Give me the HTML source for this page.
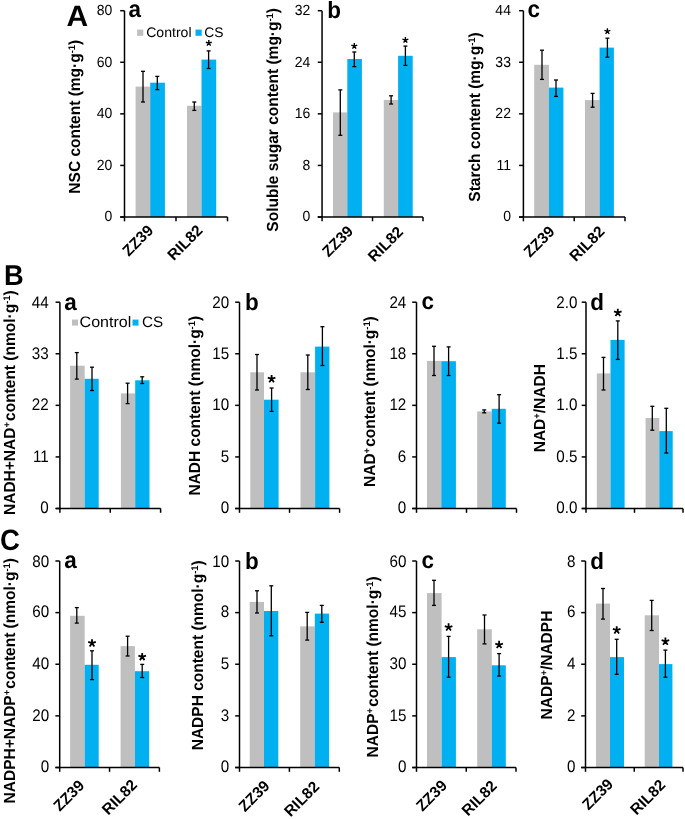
<!DOCTYPE html>
<html><head><meta charset="utf-8"><style>
html,body{margin:0;padding:0;background:#fff;overflow:hidden;}
svg{display:block;will-change:transform;}
text{font-family:"Liberation Sans",sans-serif;fill:#000;text-rendering:geometricPrecision;}
</style></head><body>
<svg width="685" height="819" viewBox="0 0 685 819">
<rect x="135.60" y="86.60" width="14.60" height="130.40" fill="#BFBFBF"/>
<rect x="150.20" y="82.70" width="14.70" height="134.30" fill="#00B0F0"/>
<rect x="187.00" y="105.80" width="14.50" height="111.20" fill="#BFBFBF"/>
<rect x="201.50" y="59.60" width="14.70" height="157.40" fill="#00B0F0"/>
<line x1="124.50" y1="10.70" x2="124.50" y2="217.00" stroke="#000" stroke-width="1.5"/>
<line x1="120.20" y1="217.00" x2="124.50" y2="217.00" stroke="#000" stroke-width="1.5"/>
<text transform="translate(112.30,221.48) scale(1.0,1.05)" font-size="14" text-anchor="end">0</text>
<line x1="120.20" y1="165.43" x2="124.50" y2="165.43" stroke="#000" stroke-width="1.5"/>
<text transform="translate(112.30,169.91) scale(1.0,1.05)" font-size="14" text-anchor="end">20</text>
<line x1="120.20" y1="113.85" x2="124.50" y2="113.85" stroke="#000" stroke-width="1.5"/>
<text transform="translate(112.30,118.33) scale(1.0,1.05)" font-size="14" text-anchor="end">40</text>
<line x1="120.20" y1="62.27" x2="124.50" y2="62.27" stroke="#000" stroke-width="1.5"/>
<text transform="translate(112.30,66.75) scale(1.0,1.05)" font-size="14" text-anchor="end">60</text>
<line x1="120.20" y1="10.70" x2="124.50" y2="10.70" stroke="#000" stroke-width="1.5"/>
<text transform="translate(112.30,15.18) scale(1.0,1.05)" font-size="14" text-anchor="end">80</text>
<line x1="120.20" y1="217.00" x2="227.50" y2="217.00" stroke="#000" stroke-width="1.5"/>
<line x1="124.50" y1="217.00" x2="124.50" y2="221.30" stroke="#000" stroke-width="1.5"/>
<line x1="176.00" y1="217.00" x2="176.00" y2="221.30" stroke="#000" stroke-width="1.5"/>
<line x1="227.50" y1="217.00" x2="227.50" y2="221.30" stroke="#000" stroke-width="1.5"/>
<line x1="143.00" y1="71.30" x2="143.00" y2="102.00" stroke="#000" stroke-width="1.3"/>
<line x1="141.00" y1="71.30" x2="145.00" y2="71.30" stroke="#000" stroke-width="1.3"/>
<line x1="141.00" y1="102.00" x2="145.00" y2="102.00" stroke="#000" stroke-width="1.3"/>
<line x1="157.30" y1="76.40" x2="157.30" y2="89.60" stroke="#000" stroke-width="1.3"/>
<line x1="155.30" y1="76.40" x2="159.30" y2="76.40" stroke="#000" stroke-width="1.3"/>
<line x1="155.30" y1="89.60" x2="159.30" y2="89.60" stroke="#000" stroke-width="1.3"/>
<line x1="194.30" y1="102.00" x2="194.30" y2="110.40" stroke="#000" stroke-width="1.3"/>
<line x1="192.30" y1="102.00" x2="196.30" y2="102.00" stroke="#000" stroke-width="1.3"/>
<line x1="192.30" y1="110.40" x2="196.30" y2="110.40" stroke="#000" stroke-width="1.3"/>
<line x1="208.60" y1="50.90" x2="208.60" y2="68.50" stroke="#000" stroke-width="1.3"/>
<line x1="206.60" y1="50.90" x2="210.60" y2="50.90" stroke="#000" stroke-width="1.3"/>
<line x1="206.60" y1="68.50" x2="210.60" y2="68.50" stroke="#000" stroke-width="1.3"/>
<path d="M208.80,43.20L208.80,40.10M208.80,43.20L211.75,42.24M208.80,43.20L210.62,45.71M208.80,43.20L206.98,45.71M208.80,43.20L205.85,42.24" stroke="#000" stroke-width="1.4" fill="none"/>
<text transform="translate(128.60,16.50) scale(1.07,1.12)" font-size="21" text-anchor="start" font-weight="bold">a</text>
<text transform="translate(79.60,116.75) rotate(-90) scale(1,1.035)" font-size="15.5" font-weight="bold" text-anchor="middle"><tspan dy="0.00">NSC content (mg·g</tspan><tspan font-size="9.30" dy="-4.65">-1</tspan><tspan dy="4.65">)</tspan></text>
<rect x="137.10" y="29.60" width="6.20" height="6.20" fill="#BFBFBF"/>
<text transform="translate(146.20,36.80) scale(1.02,1.0)" font-size="13.8" text-anchor="start">Control</text>
<rect x="195.50" y="29.60" width="6.20" height="6.20" fill="#00B0F0"/>
<text x="204.30" y="36.80" font-size="13.8" text-anchor="start">CS</text>
<text transform="translate(154.28,231.39) rotate(-45)" font-size="15.5" font-weight="bold" text-anchor="end">ZZ39</text>
<text transform="translate(203.68,231.39) rotate(-45)" font-size="15.5" font-weight="bold" text-anchor="end">RIL82</text>
<rect x="333.00" y="112.40" width="14.30" height="104.60" fill="#BFBFBF"/>
<rect x="347.30" y="59.00" width="14.60" height="158.00" fill="#00B0F0"/>
<rect x="383.80" y="99.90" width="14.30" height="117.10" fill="#BFBFBF"/>
<rect x="398.10" y="55.80" width="14.60" height="161.20" fill="#00B0F0"/>
<line x1="322.05" y1="10.70" x2="322.05" y2="217.00" stroke="#000" stroke-width="1.5"/>
<line x1="317.75" y1="217.00" x2="322.05" y2="217.00" stroke="#000" stroke-width="1.5"/>
<text transform="translate(310.40,221.48) scale(1.0,1.05)" font-size="14" text-anchor="end">0</text>
<line x1="317.75" y1="165.43" x2="322.05" y2="165.43" stroke="#000" stroke-width="1.5"/>
<text transform="translate(310.40,169.91) scale(1.0,1.05)" font-size="14" text-anchor="end">8</text>
<line x1="317.75" y1="113.85" x2="322.05" y2="113.85" stroke="#000" stroke-width="1.5"/>
<text transform="translate(310.40,118.33) scale(1.0,1.05)" font-size="14" text-anchor="end">16</text>
<line x1="317.75" y1="62.27" x2="322.05" y2="62.27" stroke="#000" stroke-width="1.5"/>
<text transform="translate(310.40,66.75) scale(1.0,1.05)" font-size="14" text-anchor="end">24</text>
<line x1="317.75" y1="10.70" x2="322.05" y2="10.70" stroke="#000" stroke-width="1.5"/>
<text transform="translate(310.40,15.18) scale(1.0,1.05)" font-size="14" text-anchor="end">32</text>
<line x1="317.75" y1="217.00" x2="423.00" y2="217.00" stroke="#000" stroke-width="1.5"/>
<line x1="322.05" y1="217.00" x2="322.05" y2="221.30" stroke="#000" stroke-width="1.5"/>
<line x1="372.52" y1="217.00" x2="372.52" y2="221.30" stroke="#000" stroke-width="1.5"/>
<line x1="423.00" y1="217.00" x2="423.00" y2="221.30" stroke="#000" stroke-width="1.5"/>
<line x1="340.30" y1="89.90" x2="340.30" y2="135.30" stroke="#000" stroke-width="1.3"/>
<line x1="338.30" y1="89.90" x2="342.30" y2="89.90" stroke="#000" stroke-width="1.3"/>
<line x1="338.30" y1="135.30" x2="342.30" y2="135.30" stroke="#000" stroke-width="1.3"/>
<line x1="354.30" y1="52.00" x2="354.30" y2="66.60" stroke="#000" stroke-width="1.3"/>
<line x1="352.30" y1="52.00" x2="356.30" y2="52.00" stroke="#000" stroke-width="1.3"/>
<line x1="352.30" y1="66.60" x2="356.30" y2="66.60" stroke="#000" stroke-width="1.3"/>
<line x1="391.10" y1="95.80" x2="391.10" y2="104.00" stroke="#000" stroke-width="1.3"/>
<line x1="389.10" y1="95.80" x2="393.10" y2="95.80" stroke="#000" stroke-width="1.3"/>
<line x1="389.10" y1="104.00" x2="393.10" y2="104.00" stroke="#000" stroke-width="1.3"/>
<line x1="405.40" y1="46.10" x2="405.40" y2="65.40" stroke="#000" stroke-width="1.3"/>
<line x1="403.40" y1="46.10" x2="407.40" y2="46.10" stroke="#000" stroke-width="1.3"/>
<line x1="403.40" y1="65.40" x2="407.40" y2="65.40" stroke="#000" stroke-width="1.3"/>
<path d="M354.30,46.10L354.30,43.00M354.30,46.10L357.25,45.14M354.30,46.10L356.12,48.61M354.30,46.10L352.48,48.61M354.30,46.10L351.35,45.14" stroke="#000" stroke-width="1.4" fill="none"/>
<path d="M405.40,40.10L405.40,37.00M405.40,40.10L408.35,39.14M405.40,40.10L407.22,42.61M405.40,40.10L403.58,42.61M405.40,40.10L402.45,39.14" stroke="#000" stroke-width="1.4" fill="none"/>
<text transform="translate(327.20,17.80) scale(1.07,1.12)" font-size="21" text-anchor="start" font-weight="bold">b</text>
<text transform="translate(278.25,119.85) rotate(-90) scale(1,1.035)" font-size="15.5" font-weight="bold" text-anchor="middle"><tspan dy="0.00">Soluble sugar content (mg·g</tspan><tspan font-size="9.30" dy="-4.65">-1</tspan><tspan dy="4.65">)</tspan></text>
<text transform="translate(354.18,232.09) rotate(-45)" font-size="15.5" font-weight="bold" text-anchor="end">ZZ39</text>
<text transform="translate(404.08,232.79) rotate(-45)" font-size="15.5" font-weight="bold" text-anchor="end">RIL82</text>
<rect x="534.20" y="64.80" width="14.80" height="152.20" fill="#BFBFBF"/>
<rect x="549.00" y="87.60" width="14.40" height="129.40" fill="#00B0F0"/>
<rect x="585.00" y="100.10" width="14.60" height="116.90" fill="#BFBFBF"/>
<rect x="599.60" y="47.60" width="14.30" height="169.40" fill="#00B0F0"/>
<line x1="523.40" y1="10.70" x2="523.40" y2="217.00" stroke="#000" stroke-width="1.5"/>
<line x1="519.10" y1="217.00" x2="523.40" y2="217.00" stroke="#000" stroke-width="1.5"/>
<text transform="translate(510.95,221.48) scale(1.0,1.05)" font-size="14" text-anchor="end">0</text>
<line x1="519.10" y1="165.43" x2="523.40" y2="165.43" stroke="#000" stroke-width="1.5"/>
<text transform="translate(510.95,169.91) scale(1.0,1.05)" font-size="14" text-anchor="end">11</text>
<line x1="519.10" y1="113.85" x2="523.40" y2="113.85" stroke="#000" stroke-width="1.5"/>
<text transform="translate(510.95,118.33) scale(1.0,1.05)" font-size="14" text-anchor="end">22</text>
<line x1="519.10" y1="62.27" x2="523.40" y2="62.27" stroke="#000" stroke-width="1.5"/>
<text transform="translate(510.95,66.75) scale(1.0,1.05)" font-size="14" text-anchor="end">33</text>
<line x1="519.10" y1="10.70" x2="523.40" y2="10.70" stroke="#000" stroke-width="1.5"/>
<text transform="translate(510.95,15.18) scale(1.0,1.05)" font-size="14" text-anchor="end">44</text>
<line x1="519.10" y1="217.00" x2="625.00" y2="217.00" stroke="#000" stroke-width="1.5"/>
<line x1="523.40" y1="217.00" x2="523.40" y2="221.30" stroke="#000" stroke-width="1.5"/>
<line x1="574.20" y1="217.00" x2="574.20" y2="221.30" stroke="#000" stroke-width="1.5"/>
<line x1="625.00" y1="217.00" x2="625.00" y2="221.30" stroke="#000" stroke-width="1.5"/>
<line x1="542.00" y1="50.20" x2="542.00" y2="79.40" stroke="#000" stroke-width="1.3"/>
<line x1="540.00" y1="50.20" x2="544.00" y2="50.20" stroke="#000" stroke-width="1.3"/>
<line x1="540.00" y1="79.40" x2="544.00" y2="79.40" stroke="#000" stroke-width="1.3"/>
<line x1="556.00" y1="80.00" x2="556.00" y2="96.40" stroke="#000" stroke-width="1.3"/>
<line x1="554.00" y1="80.00" x2="558.00" y2="80.00" stroke="#000" stroke-width="1.3"/>
<line x1="554.00" y1="96.40" x2="558.00" y2="96.40" stroke="#000" stroke-width="1.3"/>
<line x1="592.60" y1="93.40" x2="592.60" y2="107.20" stroke="#000" stroke-width="1.3"/>
<line x1="590.60" y1="93.40" x2="594.60" y2="93.40" stroke="#000" stroke-width="1.3"/>
<line x1="590.60" y1="107.20" x2="594.60" y2="107.20" stroke="#000" stroke-width="1.3"/>
<line x1="607.40" y1="38.20" x2="607.40" y2="57.20" stroke="#000" stroke-width="1.3"/>
<line x1="605.40" y1="38.20" x2="609.40" y2="38.20" stroke="#000" stroke-width="1.3"/>
<line x1="605.40" y1="57.20" x2="609.40" y2="57.20" stroke="#000" stroke-width="1.3"/>
<path d="M607.40,31.35L607.40,28.25M607.40,31.35L610.35,30.39M607.40,31.35L609.22,33.86M607.40,31.35L605.58,33.86M607.40,31.35L604.45,30.39" stroke="#000" stroke-width="1.4" fill="none"/>
<text transform="translate(527.60,17.30) scale(1.07,1.12)" font-size="21" text-anchor="start" font-weight="bold">c</text>
<text transform="translate(480.30,117.00) rotate(-90) scale(1,1.035)" font-size="15.5" font-weight="bold" text-anchor="middle"><tspan dy="0.00">Starch content (mg·g</tspan><tspan font-size="9.30" dy="-4.65">-1</tspan><tspan dy="4.65">)</tspan></text>
<text transform="translate(555.68,232.49) rotate(-45)" font-size="15.5" font-weight="bold" text-anchor="end">ZZ39</text>
<text transform="translate(605.58,232.49) rotate(-45)" font-size="15.5" font-weight="bold" text-anchor="end">RIL82</text>
<rect x="70.10" y="365.70" width="14.60" height="142.80" fill="#BFBFBF"/>
<rect x="84.70" y="378.80" width="14.00" height="129.70" fill="#00B0F0"/>
<rect x="120.90" y="393.40" width="14.30" height="115.10" fill="#BFBFBF"/>
<rect x="135.20" y="380.30" width="14.30" height="128.20" fill="#00B0F0"/>
<line x1="59.90" y1="302.20" x2="59.90" y2="508.50" stroke="#000" stroke-width="1.5"/>
<line x1="55.60" y1="508.50" x2="59.90" y2="508.50" stroke="#000" stroke-width="1.5"/>
<text transform="translate(48.70,513.23) scale(1.0,1.1)" font-size="15.2" text-anchor="end">0</text>
<line x1="55.60" y1="456.93" x2="59.90" y2="456.93" stroke="#000" stroke-width="1.5"/>
<text transform="translate(48.70,461.65) scale(1.0,1.1)" font-size="15.2" text-anchor="end">11</text>
<line x1="55.60" y1="405.35" x2="59.90" y2="405.35" stroke="#000" stroke-width="1.5"/>
<text transform="translate(48.70,410.08) scale(1.0,1.1)" font-size="15.2" text-anchor="end">22</text>
<line x1="55.60" y1="353.77" x2="59.90" y2="353.77" stroke="#000" stroke-width="1.5"/>
<text transform="translate(48.70,358.50) scale(1.0,1.1)" font-size="15.2" text-anchor="end">33</text>
<line x1="55.60" y1="302.20" x2="59.90" y2="302.20" stroke="#000" stroke-width="1.5"/>
<text transform="translate(48.70,307.68) scale(1.0,1.1)" font-size="15.2" text-anchor="end">44</text>
<line x1="55.60" y1="508.50" x2="160.60" y2="508.50" stroke="#000" stroke-width="1.5"/>
<line x1="59.90" y1="508.50" x2="59.90" y2="512.80" stroke="#000" stroke-width="1.5"/>
<line x1="110.25" y1="508.50" x2="110.25" y2="512.80" stroke="#000" stroke-width="1.5"/>
<line x1="160.60" y1="508.50" x2="160.60" y2="512.80" stroke="#000" stroke-width="1.5"/>
<line x1="76.80" y1="352.60" x2="76.80" y2="379.10" stroke="#000" stroke-width="1.3"/>
<line x1="74.80" y1="352.60" x2="78.80" y2="352.60" stroke="#000" stroke-width="1.3"/>
<line x1="74.80" y1="379.10" x2="78.80" y2="379.10" stroke="#000" stroke-width="1.3"/>
<line x1="92.00" y1="367.20" x2="92.00" y2="390.50" stroke="#000" stroke-width="1.3"/>
<line x1="90.00" y1="367.20" x2="94.00" y2="367.20" stroke="#000" stroke-width="1.3"/>
<line x1="90.00" y1="390.50" x2="94.00" y2="390.50" stroke="#000" stroke-width="1.3"/>
<line x1="127.60" y1="383.20" x2="127.60" y2="403.60" stroke="#000" stroke-width="1.3"/>
<line x1="125.60" y1="383.20" x2="129.60" y2="383.20" stroke="#000" stroke-width="1.3"/>
<line x1="125.60" y1="403.60" x2="129.60" y2="403.60" stroke="#000" stroke-width="1.3"/>
<line x1="142.20" y1="376.80" x2="142.20" y2="383.50" stroke="#000" stroke-width="1.3"/>
<line x1="140.20" y1="376.80" x2="144.20" y2="376.80" stroke="#000" stroke-width="1.3"/>
<line x1="140.20" y1="383.50" x2="144.20" y2="383.50" stroke="#000" stroke-width="1.3"/>
<text transform="translate(64.30,309.80) scale(1.07,1.12)" font-size="21" text-anchor="start" font-weight="bold">a</text>
<text transform="translate(14.95,402.70) rotate(-90) scale(1,1.035)" font-size="15.5" font-weight="bold" text-anchor="middle"><tspan dy="0.00">NADH+NAD</tspan><tspan font-size="9.30" dy="-4.65">+</tspan><tspan dy="4.65" dx="1.2">content (nmol·g</tspan><tspan font-size="9.30" dy="-4.65">-1</tspan><tspan dy="4.65">)</tspan></text>
<rect x="72.00" y="319.60" width="6.00" height="6.00" fill="#BFBFBF"/>
<text transform="translate(79.60,326.60) scale(1.057,1.0)" font-size="15.2" text-anchor="start">Control</text>
<rect x="132.50" y="319.60" width="6.00" height="6.00" fill="#00B0F0"/>
<text x="142.00" y="326.60" font-size="15.2" text-anchor="start">CS</text>
<rect x="250.30" y="372.30" width="13.70" height="136.20" fill="#BFBFBF"/>
<rect x="264.00" y="399.70" width="14.60" height="108.80" fill="#00B0F0"/>
<rect x="300.50" y="372.30" width="14.60" height="136.20" fill="#BFBFBF"/>
<rect x="315.10" y="346.60" width="14.30" height="161.90" fill="#00B0F0"/>
<line x1="239.50" y1="302.20" x2="239.50" y2="508.50" stroke="#000" stroke-width="1.5"/>
<line x1="235.20" y1="508.50" x2="239.50" y2="508.50" stroke="#000" stroke-width="1.5"/>
<text transform="translate(229.20,513.23) scale(1.0,1.1)" font-size="15.2" text-anchor="end">0</text>
<line x1="235.20" y1="456.93" x2="239.50" y2="456.93" stroke="#000" stroke-width="1.5"/>
<text transform="translate(229.20,461.65) scale(1.0,1.1)" font-size="15.2" text-anchor="end">5</text>
<line x1="235.20" y1="405.35" x2="239.50" y2="405.35" stroke="#000" stroke-width="1.5"/>
<text transform="translate(229.20,410.08) scale(1.0,1.1)" font-size="15.2" text-anchor="end">10</text>
<line x1="235.20" y1="353.77" x2="239.50" y2="353.77" stroke="#000" stroke-width="1.5"/>
<text transform="translate(229.20,358.50) scale(1.0,1.1)" font-size="15.2" text-anchor="end">15</text>
<line x1="235.20" y1="302.20" x2="239.50" y2="302.20" stroke="#000" stroke-width="1.5"/>
<text transform="translate(229.20,307.68) scale(1.0,1.1)" font-size="15.2" text-anchor="end">20</text>
<line x1="235.20" y1="508.50" x2="339.60" y2="508.50" stroke="#000" stroke-width="1.5"/>
<line x1="239.50" y1="508.50" x2="239.50" y2="512.80" stroke="#000" stroke-width="1.5"/>
<line x1="289.55" y1="508.50" x2="289.55" y2="512.80" stroke="#000" stroke-width="1.5"/>
<line x1="339.60" y1="508.50" x2="339.60" y2="512.80" stroke="#000" stroke-width="1.5"/>
<line x1="257.00" y1="354.50" x2="257.00" y2="390.00" stroke="#000" stroke-width="1.3"/>
<line x1="255.00" y1="354.50" x2="259.00" y2="354.50" stroke="#000" stroke-width="1.3"/>
<line x1="255.00" y1="390.00" x2="259.00" y2="390.00" stroke="#000" stroke-width="1.3"/>
<line x1="271.60" y1="388.00" x2="271.60" y2="411.40" stroke="#000" stroke-width="1.3"/>
<line x1="269.60" y1="388.00" x2="273.60" y2="388.00" stroke="#000" stroke-width="1.3"/>
<line x1="269.60" y1="411.40" x2="273.60" y2="411.40" stroke="#000" stroke-width="1.3"/>
<line x1="307.80" y1="355.00" x2="307.80" y2="389.50" stroke="#000" stroke-width="1.3"/>
<line x1="305.80" y1="355.00" x2="309.80" y2="355.00" stroke="#000" stroke-width="1.3"/>
<line x1="305.80" y1="389.50" x2="309.80" y2="389.50" stroke="#000" stroke-width="1.3"/>
<line x1="322.40" y1="326.70" x2="322.40" y2="365.50" stroke="#000" stroke-width="1.3"/>
<line x1="320.40" y1="326.70" x2="324.40" y2="326.70" stroke="#000" stroke-width="1.3"/>
<line x1="320.40" y1="365.50" x2="324.40" y2="365.50" stroke="#000" stroke-width="1.3"/>
<path d="M271.60,378.95L271.60,374.95M271.60,378.95L275.40,377.71M271.60,378.95L273.95,382.19M271.60,378.95L269.25,382.19M271.60,378.95L267.80,377.71" stroke="#000" stroke-width="1.8" fill="none"/>
<text transform="translate(244.90,310.00) scale(1.07,1.12)" font-size="21" text-anchor="start" font-weight="bold">b</text>
<text transform="translate(199.60,405.75) rotate(-90) scale(1,1.035)" font-size="15.5" font-weight="bold" text-anchor="middle"><tspan dy="0.00">NADH content (nmol·g</tspan><tspan font-size="9.30" dy="-4.65">-1</tspan><tspan dy="4.65">)</tspan></text>
<rect x="427.00" y="360.90" width="14.30" height="147.60" fill="#BFBFBF"/>
<rect x="441.30" y="361.20" width="14.60" height="147.30" fill="#00B0F0"/>
<rect x="477.20" y="411.40" width="14.60" height="97.10" fill="#BFBFBF"/>
<rect x="491.80" y="408.80" width="14.00" height="99.70" fill="#00B0F0"/>
<line x1="416.50" y1="302.20" x2="416.50" y2="508.50" stroke="#000" stroke-width="1.5"/>
<line x1="412.20" y1="508.50" x2="416.50" y2="508.50" stroke="#000" stroke-width="1.5"/>
<text transform="translate(406.30,513.23) scale(1.0,1.1)" font-size="15.2" text-anchor="end">0</text>
<line x1="412.20" y1="456.93" x2="416.50" y2="456.93" stroke="#000" stroke-width="1.5"/>
<text transform="translate(406.30,461.65) scale(1.0,1.1)" font-size="15.2" text-anchor="end">6</text>
<line x1="412.20" y1="405.35" x2="416.50" y2="405.35" stroke="#000" stroke-width="1.5"/>
<text transform="translate(406.30,410.08) scale(1.0,1.1)" font-size="15.2" text-anchor="end">12</text>
<line x1="412.20" y1="353.77" x2="416.50" y2="353.77" stroke="#000" stroke-width="1.5"/>
<text transform="translate(406.30,358.50) scale(1.0,1.1)" font-size="15.2" text-anchor="end">18</text>
<line x1="412.20" y1="302.20" x2="416.50" y2="302.20" stroke="#000" stroke-width="1.5"/>
<text transform="translate(406.30,307.68) scale(1.0,1.1)" font-size="15.2" text-anchor="end">24</text>
<line x1="412.20" y1="508.50" x2="516.50" y2="508.50" stroke="#000" stroke-width="1.5"/>
<line x1="416.50" y1="508.50" x2="416.50" y2="512.80" stroke="#000" stroke-width="1.5"/>
<line x1="466.50" y1="508.50" x2="466.50" y2="512.80" stroke="#000" stroke-width="1.5"/>
<line x1="516.50" y1="508.50" x2="516.50" y2="512.80" stroke="#000" stroke-width="1.5"/>
<line x1="434.00" y1="346.30" x2="434.00" y2="375.50" stroke="#000" stroke-width="1.3"/>
<line x1="432.00" y1="346.30" x2="436.00" y2="346.30" stroke="#000" stroke-width="1.3"/>
<line x1="432.00" y1="375.50" x2="436.00" y2="375.50" stroke="#000" stroke-width="1.3"/>
<line x1="448.60" y1="346.90" x2="448.60" y2="375.50" stroke="#000" stroke-width="1.3"/>
<line x1="446.60" y1="346.90" x2="450.60" y2="346.90" stroke="#000" stroke-width="1.3"/>
<line x1="446.60" y1="375.50" x2="450.60" y2="375.50" stroke="#000" stroke-width="1.3"/>
<line x1="484.20" y1="409.90" x2="484.20" y2="412.80" stroke="#000" stroke-width="1.3"/>
<line x1="482.20" y1="409.90" x2="486.20" y2="409.90" stroke="#000" stroke-width="1.3"/>
<line x1="482.20" y1="412.80" x2="486.20" y2="412.80" stroke="#000" stroke-width="1.3"/>
<line x1="499.10" y1="394.70" x2="499.10" y2="423.20" stroke="#000" stroke-width="1.3"/>
<line x1="497.10" y1="394.70" x2="501.10" y2="394.70" stroke="#000" stroke-width="1.3"/>
<line x1="497.10" y1="423.20" x2="501.10" y2="423.20" stroke="#000" stroke-width="1.3"/>
<text transform="translate(421.50,308.80) scale(1.07,1.12)" font-size="21" text-anchor="start" font-weight="bold">c</text>
<text transform="translate(374.95,401.60) rotate(-90) scale(1,1.035)" font-size="15.5" font-weight="bold" text-anchor="middle"><tspan dy="0.00">NAD</tspan><tspan font-size="9.30" dy="-4.65">+</tspan><tspan dy="4.65" dx="1.2">content (nmol·g</tspan><tspan font-size="9.30" dy="-4.65">-1</tspan><tspan dy="4.65">)</tspan></text>
<rect x="596.80" y="373.40" width="13.70" height="135.10" fill="#BFBFBF"/>
<rect x="610.50" y="339.90" width="14.10" height="168.60" fill="#00B0F0"/>
<rect x="645.60" y="418.00" width="13.70" height="90.50" fill="#BFBFBF"/>
<rect x="659.30" y="431.10" width="13.40" height="77.40" fill="#00B0F0"/>
<line x1="586.00" y1="302.20" x2="586.00" y2="508.50" stroke="#000" stroke-width="1.5"/>
<line x1="581.70" y1="508.50" x2="586.00" y2="508.50" stroke="#000" stroke-width="1.5"/>
<text transform="translate(577.35,513.23) scale(1.0,1.1)" font-size="15.2" text-anchor="end">0.0</text>
<line x1="581.70" y1="456.93" x2="586.00" y2="456.93" stroke="#000" stroke-width="1.5"/>
<text transform="translate(577.35,461.65) scale(1.0,1.1)" font-size="15.2" text-anchor="end">0.5</text>
<line x1="581.70" y1="405.35" x2="586.00" y2="405.35" stroke="#000" stroke-width="1.5"/>
<text transform="translate(577.35,410.08) scale(1.0,1.1)" font-size="15.2" text-anchor="end">1.0</text>
<line x1="581.70" y1="353.77" x2="586.00" y2="353.77" stroke="#000" stroke-width="1.5"/>
<text transform="translate(577.35,358.50) scale(1.0,1.1)" font-size="15.2" text-anchor="end">1.5</text>
<line x1="581.70" y1="302.20" x2="586.00" y2="302.20" stroke="#000" stroke-width="1.5"/>
<text transform="translate(577.35,307.68) scale(1.0,1.1)" font-size="15.2" text-anchor="end">2.0</text>
<line x1="581.70" y1="508.50" x2="683.00" y2="508.50" stroke="#000" stroke-width="1.5"/>
<line x1="586.00" y1="508.50" x2="586.00" y2="512.80" stroke="#000" stroke-width="1.5"/>
<line x1="634.50" y1="508.50" x2="634.50" y2="512.80" stroke="#000" stroke-width="1.5"/>
<line x1="683.00" y1="508.50" x2="683.00" y2="512.80" stroke="#000" stroke-width="1.5"/>
<line x1="603.50" y1="357.40" x2="603.50" y2="390.00" stroke="#000" stroke-width="1.3"/>
<line x1="601.50" y1="357.40" x2="605.50" y2="357.40" stroke="#000" stroke-width="1.3"/>
<line x1="601.50" y1="390.00" x2="605.50" y2="390.00" stroke="#000" stroke-width="1.3"/>
<line x1="617.80" y1="320.90" x2="617.80" y2="359.40" stroke="#000" stroke-width="1.3"/>
<line x1="615.80" y1="320.90" x2="619.80" y2="320.90" stroke="#000" stroke-width="1.3"/>
<line x1="615.80" y1="359.40" x2="619.80" y2="359.40" stroke="#000" stroke-width="1.3"/>
<line x1="652.30" y1="406.30" x2="652.30" y2="430.20" stroke="#000" stroke-width="1.3"/>
<line x1="650.30" y1="406.30" x2="654.30" y2="406.30" stroke="#000" stroke-width="1.3"/>
<line x1="650.30" y1="430.20" x2="654.30" y2="430.20" stroke="#000" stroke-width="1.3"/>
<line x1="666.30" y1="408.30" x2="666.30" y2="453.00" stroke="#000" stroke-width="1.3"/>
<line x1="664.30" y1="408.30" x2="668.30" y2="408.30" stroke="#000" stroke-width="1.3"/>
<line x1="664.30" y1="453.00" x2="668.30" y2="453.00" stroke="#000" stroke-width="1.3"/>
<path d="M617.80,312.70L617.80,308.70M617.80,312.70L621.60,311.46M617.80,312.70L620.15,315.94M617.80,312.70L615.45,315.94M617.80,312.70L614.00,311.46" stroke="#000" stroke-width="1.8" fill="none"/>
<text transform="translate(590.20,310.00) scale(1.07,1.12)" font-size="21" text-anchor="start" font-weight="bold">d</text>
<text transform="translate(544.55,408.20) rotate(-90) scale(1,1.035)" font-size="15.5" font-weight="bold" text-anchor="middle"><tspan dy="0.00">NAD</tspan><tspan font-size="9.30" dy="-4.65">+</tspan><tspan dy="4.65">/NADH</tspan></text>
<rect x="70.10" y="615.80" width="14.60" height="151.70" fill="#BFBFBF"/>
<rect x="84.70" y="664.80" width="14.00" height="102.70" fill="#00B0F0"/>
<rect x="120.60" y="646.10" width="14.30" height="121.40" fill="#BFBFBF"/>
<rect x="134.90" y="671.20" width="14.30" height="96.30" fill="#00B0F0"/>
<line x1="59.70" y1="561.00" x2="59.70" y2="767.50" stroke="#000" stroke-width="1.5"/>
<line x1="55.40" y1="767.50" x2="59.70" y2="767.50" stroke="#000" stroke-width="1.5"/>
<text transform="translate(49.20,772.23) scale(1.0,1.1)" font-size="15.2" text-anchor="end">0</text>
<line x1="55.40" y1="715.88" x2="59.70" y2="715.88" stroke="#000" stroke-width="1.5"/>
<text transform="translate(49.20,720.60) scale(1.0,1.1)" font-size="15.2" text-anchor="end">20</text>
<line x1="55.40" y1="664.25" x2="59.70" y2="664.25" stroke="#000" stroke-width="1.5"/>
<text transform="translate(49.20,668.98) scale(1.0,1.1)" font-size="15.2" text-anchor="end">40</text>
<line x1="55.40" y1="612.62" x2="59.70" y2="612.62" stroke="#000" stroke-width="1.5"/>
<text transform="translate(49.20,617.35) scale(1.0,1.1)" font-size="15.2" text-anchor="end">60</text>
<line x1="55.40" y1="561.00" x2="59.70" y2="561.00" stroke="#000" stroke-width="1.5"/>
<text transform="translate(49.20,566.73) scale(1.0,1.1)" font-size="15.2" text-anchor="end">80</text>
<line x1="55.40" y1="767.50" x2="159.40" y2="767.50" stroke="#000" stroke-width="1.5"/>
<line x1="59.70" y1="767.50" x2="59.70" y2="771.80" stroke="#000" stroke-width="1.5"/>
<line x1="109.55" y1="767.50" x2="109.55" y2="771.80" stroke="#000" stroke-width="1.5"/>
<line x1="159.40" y1="767.50" x2="159.40" y2="771.80" stroke="#000" stroke-width="1.5"/>
<line x1="76.80" y1="607.60" x2="76.80" y2="623.10" stroke="#000" stroke-width="1.3"/>
<line x1="74.80" y1="607.60" x2="78.80" y2="607.60" stroke="#000" stroke-width="1.3"/>
<line x1="74.80" y1="623.10" x2="78.80" y2="623.10" stroke="#000" stroke-width="1.3"/>
<line x1="92.00" y1="650.80" x2="92.00" y2="679.60" stroke="#000" stroke-width="1.3"/>
<line x1="90.00" y1="650.80" x2="94.00" y2="650.80" stroke="#000" stroke-width="1.3"/>
<line x1="90.00" y1="679.60" x2="94.00" y2="679.60" stroke="#000" stroke-width="1.3"/>
<line x1="127.60" y1="636.20" x2="127.60" y2="656.00" stroke="#000" stroke-width="1.3"/>
<line x1="125.60" y1="636.20" x2="129.60" y2="636.20" stroke="#000" stroke-width="1.3"/>
<line x1="125.60" y1="656.00" x2="129.60" y2="656.00" stroke="#000" stroke-width="1.3"/>
<line x1="142.20" y1="664.40" x2="142.20" y2="677.50" stroke="#000" stroke-width="1.3"/>
<line x1="140.20" y1="664.40" x2="144.20" y2="664.40" stroke="#000" stroke-width="1.3"/>
<line x1="140.20" y1="677.50" x2="144.20" y2="677.50" stroke="#000" stroke-width="1.3"/>
<path d="M92.00,643.20L92.00,639.20M92.00,643.20L95.80,641.96M92.00,643.20L94.35,646.44M92.00,643.20L89.65,646.44M92.00,643.20L88.20,641.96" stroke="#000" stroke-width="1.8" fill="none"/>
<path d="M142.20,656.90L142.20,652.90M142.20,656.90L146.00,655.66M142.20,656.90L144.55,660.14M142.20,656.90L139.85,660.14M142.20,656.90L138.40,655.66" stroke="#000" stroke-width="1.8" fill="none"/>
<text transform="translate(64.30,568.40) scale(1.07,1.12)" font-size="21" text-anchor="start" font-weight="bold">a</text>
<text transform="translate(14.50,680.75) rotate(-90) scale(1,1.035)" font-size="15.5" font-weight="bold" text-anchor="middle"><tspan dy="0.00">NADPH+NADP</tspan><tspan font-size="9.30" dy="-4.65">+</tspan><tspan dy="4.65" dx="1.2">content (nmol·g</tspan><tspan font-size="9.30" dy="-4.65">-1</tspan><tspan dy="4.65">)</tspan></text>
<text transform="translate(85.28,786.49) rotate(-45)" font-size="15.5" font-weight="bold" text-anchor="end">ZZ39</text>
<text transform="translate(138.18,785.79) rotate(-45)" font-size="15.5" font-weight="bold" text-anchor="end">RIL82</text>
<rect x="249.70" y="601.90" width="14.30" height="165.60" fill="#BFBFBF"/>
<rect x="264.00" y="611.00" width="14.30" height="156.50" fill="#00B0F0"/>
<rect x="300.20" y="626.40" width="14.60" height="141.10" fill="#BFBFBF"/>
<rect x="314.80" y="613.60" width="14.30" height="153.90" fill="#00B0F0"/>
<line x1="239.50" y1="561.00" x2="239.50" y2="767.50" stroke="#000" stroke-width="1.5"/>
<line x1="235.20" y1="767.50" x2="239.50" y2="767.50" stroke="#000" stroke-width="1.5"/>
<text transform="translate(229.20,772.23) scale(1.0,1.1)" font-size="15.2" text-anchor="end">0</text>
<line x1="235.20" y1="715.88" x2="239.50" y2="715.88" stroke="#000" stroke-width="1.5"/>
<text transform="translate(229.20,720.60) scale(1.0,1.1)" font-size="15.2" text-anchor="end">3</text>
<line x1="235.20" y1="664.25" x2="239.50" y2="664.25" stroke="#000" stroke-width="1.5"/>
<text transform="translate(229.20,668.98) scale(1.0,1.1)" font-size="15.2" text-anchor="end">5</text>
<line x1="235.20" y1="612.62" x2="239.50" y2="612.62" stroke="#000" stroke-width="1.5"/>
<text transform="translate(229.20,617.35) scale(1.0,1.1)" font-size="15.2" text-anchor="end">8</text>
<line x1="235.20" y1="561.00" x2="239.50" y2="561.00" stroke="#000" stroke-width="1.5"/>
<text transform="translate(229.20,566.73) scale(1.0,1.1)" font-size="15.2" text-anchor="end">10</text>
<line x1="235.20" y1="767.50" x2="339.30" y2="767.50" stroke="#000" stroke-width="1.5"/>
<line x1="239.50" y1="767.50" x2="239.50" y2="771.80" stroke="#000" stroke-width="1.5"/>
<line x1="289.40" y1="767.50" x2="289.40" y2="771.80" stroke="#000" stroke-width="1.5"/>
<line x1="339.30" y1="767.50" x2="339.30" y2="771.80" stroke="#000" stroke-width="1.5"/>
<line x1="257.00" y1="590.80" x2="257.00" y2="613.00" stroke="#000" stroke-width="1.3"/>
<line x1="255.00" y1="590.80" x2="259.00" y2="590.80" stroke="#000" stroke-width="1.3"/>
<line x1="255.00" y1="613.00" x2="259.00" y2="613.00" stroke="#000" stroke-width="1.3"/>
<line x1="271.30" y1="585.80" x2="271.30" y2="635.80" stroke="#000" stroke-width="1.3"/>
<line x1="269.30" y1="585.80" x2="273.30" y2="585.80" stroke="#000" stroke-width="1.3"/>
<line x1="269.30" y1="635.80" x2="273.30" y2="635.80" stroke="#000" stroke-width="1.3"/>
<line x1="307.20" y1="612.40" x2="307.20" y2="640.10" stroke="#000" stroke-width="1.3"/>
<line x1="305.20" y1="612.40" x2="309.20" y2="612.40" stroke="#000" stroke-width="1.3"/>
<line x1="305.20" y1="640.10" x2="309.20" y2="640.10" stroke="#000" stroke-width="1.3"/>
<line x1="321.80" y1="605.40" x2="321.80" y2="622.30" stroke="#000" stroke-width="1.3"/>
<line x1="319.80" y1="605.40" x2="323.80" y2="605.40" stroke="#000" stroke-width="1.3"/>
<line x1="319.80" y1="622.30" x2="323.80" y2="622.30" stroke="#000" stroke-width="1.3"/>
<text transform="translate(244.90,568.80) scale(1.07,1.12)" font-size="21" text-anchor="start" font-weight="bold">b</text>
<text transform="translate(202.65,655.30) rotate(-90) scale(1,1.035)" font-size="15.5" font-weight="bold" text-anchor="middle"><tspan dy="0.00">NADPH content (nmol·g</tspan><tspan font-size="9.30" dy="-4.65">-1</tspan><tspan dy="4.65">)</tspan></text>
<text transform="translate(270.68,786.89) rotate(-45)" font-size="15.5" font-weight="bold" text-anchor="end">ZZ39</text>
<text transform="translate(320.28,787.69) rotate(-45)" font-size="15.5" font-weight="bold" text-anchor="end">RIL82</text>
<rect x="427.00" y="593.10" width="14.60" height="174.40" fill="#BFBFBF"/>
<rect x="441.60" y="657.10" width="14.30" height="110.40" fill="#00B0F0"/>
<rect x="477.20" y="629.30" width="14.60" height="138.20" fill="#BFBFBF"/>
<rect x="491.80" y="665.30" width="14.00" height="102.20" fill="#00B0F0"/>
<line x1="416.50" y1="561.00" x2="416.50" y2="767.50" stroke="#000" stroke-width="1.5"/>
<line x1="412.20" y1="767.50" x2="416.50" y2="767.50" stroke="#000" stroke-width="1.5"/>
<text transform="translate(406.40,772.23) scale(1.0,1.1)" font-size="15.2" text-anchor="end">0</text>
<line x1="412.20" y1="715.88" x2="416.50" y2="715.88" stroke="#000" stroke-width="1.5"/>
<text transform="translate(406.40,720.60) scale(1.0,1.1)" font-size="15.2" text-anchor="end">15</text>
<line x1="412.20" y1="664.25" x2="416.50" y2="664.25" stroke="#000" stroke-width="1.5"/>
<text transform="translate(406.40,668.98) scale(1.0,1.1)" font-size="15.2" text-anchor="end">30</text>
<line x1="412.20" y1="612.62" x2="416.50" y2="612.62" stroke="#000" stroke-width="1.5"/>
<text transform="translate(406.40,617.35) scale(1.0,1.1)" font-size="15.2" text-anchor="end">45</text>
<line x1="412.20" y1="561.00" x2="416.50" y2="561.00" stroke="#000" stroke-width="1.5"/>
<text transform="translate(406.40,566.73) scale(1.0,1.1)" font-size="15.2" text-anchor="end">60</text>
<line x1="412.20" y1="767.50" x2="516.00" y2="767.50" stroke="#000" stroke-width="1.5"/>
<line x1="416.50" y1="767.50" x2="416.50" y2="771.80" stroke="#000" stroke-width="1.5"/>
<line x1="466.25" y1="767.50" x2="466.25" y2="771.80" stroke="#000" stroke-width="1.5"/>
<line x1="516.00" y1="767.50" x2="516.00" y2="771.80" stroke="#000" stroke-width="1.5"/>
<line x1="434.00" y1="580.30" x2="434.00" y2="605.40" stroke="#000" stroke-width="1.3"/>
<line x1="432.00" y1="580.30" x2="436.00" y2="580.30" stroke="#000" stroke-width="1.3"/>
<line x1="432.00" y1="605.40" x2="436.00" y2="605.40" stroke="#000" stroke-width="1.3"/>
<line x1="448.60" y1="636.40" x2="448.60" y2="677.20" stroke="#000" stroke-width="1.3"/>
<line x1="446.60" y1="636.40" x2="450.60" y2="636.40" stroke="#000" stroke-width="1.3"/>
<line x1="446.60" y1="677.20" x2="450.60" y2="677.20" stroke="#000" stroke-width="1.3"/>
<line x1="484.50" y1="615.00" x2="484.50" y2="643.90" stroke="#000" stroke-width="1.3"/>
<line x1="482.50" y1="615.00" x2="486.50" y2="615.00" stroke="#000" stroke-width="1.3"/>
<line x1="482.50" y1="643.90" x2="486.50" y2="643.90" stroke="#000" stroke-width="1.3"/>
<line x1="499.10" y1="653.60" x2="499.10" y2="676.00" stroke="#000" stroke-width="1.3"/>
<line x1="497.10" y1="653.60" x2="501.10" y2="653.60" stroke="#000" stroke-width="1.3"/>
<line x1="497.10" y1="676.00" x2="501.10" y2="676.00" stroke="#000" stroke-width="1.3"/>
<path d="M448.60,627.30L448.60,623.30M448.60,627.30L452.40,626.06M448.60,627.30L450.95,630.54M448.60,627.30L446.25,630.54M448.60,627.30L444.80,626.06" stroke="#000" stroke-width="1.8" fill="none"/>
<path d="M499.10,644.80L499.10,640.80M499.10,644.80L502.90,643.56M499.10,644.80L501.45,648.04M499.10,644.80L496.75,648.04M499.10,644.80L495.30,643.56" stroke="#000" stroke-width="1.8" fill="none"/>
<text transform="translate(421.50,568.00) scale(1.07,1.12)" font-size="21" text-anchor="start" font-weight="bold">c</text>
<text transform="translate(377.95,666.85) rotate(-90) scale(1,1.035)" font-size="15.5" font-weight="bold" text-anchor="middle"><tspan dy="0.00">NADP</tspan><tspan font-size="9.30" dy="-4.65">+</tspan><tspan dy="4.65" dx="1.2">content (nmol·g</tspan><tspan font-size="9.30" dy="-4.65">-1</tspan><tspan dy="4.65">)</tspan></text>
<text transform="translate(447.98,786.49) rotate(-45)" font-size="15.5" font-weight="bold" text-anchor="end">ZZ39</text>
<text transform="translate(497.88,786.89) rotate(-45)" font-size="15.5" font-weight="bold" text-anchor="end">RIL82</text>
<rect x="596.00" y="603.60" width="14.00" height="163.90" fill="#BFBFBF"/>
<rect x="610.00" y="657.10" width="14.00" height="110.40" fill="#00B0F0"/>
<rect x="644.70" y="615.30" width="14.30" height="152.20" fill="#BFBFBF"/>
<rect x="659.00" y="664.10" width="13.40" height="103.40" fill="#00B0F0"/>
<line x1="585.50" y1="561.00" x2="585.50" y2="767.50" stroke="#000" stroke-width="1.5"/>
<line x1="581.20" y1="767.50" x2="585.50" y2="767.50" stroke="#000" stroke-width="1.5"/>
<text transform="translate(575.40,772.23) scale(1.0,1.1)" font-size="15.2" text-anchor="end">0</text>
<line x1="581.20" y1="715.88" x2="585.50" y2="715.88" stroke="#000" stroke-width="1.5"/>
<text transform="translate(575.40,720.60) scale(1.0,1.1)" font-size="15.2" text-anchor="end">2</text>
<line x1="581.20" y1="664.25" x2="585.50" y2="664.25" stroke="#000" stroke-width="1.5"/>
<text transform="translate(575.40,668.98) scale(1.0,1.1)" font-size="15.2" text-anchor="end">4</text>
<line x1="581.20" y1="612.62" x2="585.50" y2="612.62" stroke="#000" stroke-width="1.5"/>
<text transform="translate(575.40,617.35) scale(1.0,1.1)" font-size="15.2" text-anchor="end">6</text>
<line x1="581.20" y1="561.00" x2="585.50" y2="561.00" stroke="#000" stroke-width="1.5"/>
<text transform="translate(575.40,566.73) scale(1.0,1.1)" font-size="15.2" text-anchor="end">8</text>
<line x1="581.20" y1="767.50" x2="683.00" y2="767.50" stroke="#000" stroke-width="1.5"/>
<line x1="585.50" y1="767.50" x2="585.50" y2="771.80" stroke="#000" stroke-width="1.5"/>
<line x1="634.25" y1="767.50" x2="634.25" y2="771.80" stroke="#000" stroke-width="1.5"/>
<line x1="683.00" y1="767.50" x2="683.00" y2="771.80" stroke="#000" stroke-width="1.5"/>
<line x1="603.00" y1="588.50" x2="603.00" y2="619.10" stroke="#000" stroke-width="1.3"/>
<line x1="601.00" y1="588.50" x2="605.00" y2="588.50" stroke="#000" stroke-width="1.3"/>
<line x1="601.00" y1="619.10" x2="605.00" y2="619.10" stroke="#000" stroke-width="1.3"/>
<line x1="616.70" y1="639.30" x2="616.70" y2="674.30" stroke="#000" stroke-width="1.3"/>
<line x1="614.70" y1="639.30" x2="618.70" y2="639.30" stroke="#000" stroke-width="1.3"/>
<line x1="614.70" y1="674.30" x2="618.70" y2="674.30" stroke="#000" stroke-width="1.3"/>
<line x1="651.70" y1="600.40" x2="651.70" y2="630.50" stroke="#000" stroke-width="1.3"/>
<line x1="649.70" y1="600.40" x2="653.70" y2="600.40" stroke="#000" stroke-width="1.3"/>
<line x1="649.70" y1="630.50" x2="653.70" y2="630.50" stroke="#000" stroke-width="1.3"/>
<line x1="665.40" y1="650.10" x2="665.40" y2="677.20" stroke="#000" stroke-width="1.3"/>
<line x1="663.40" y1="650.10" x2="667.40" y2="650.10" stroke="#000" stroke-width="1.3"/>
<line x1="663.40" y1="677.20" x2="667.40" y2="677.20" stroke="#000" stroke-width="1.3"/>
<path d="M616.70,630.20L616.70,626.20M616.70,630.20L620.50,628.96M616.70,630.20L619.05,633.44M616.70,630.20L614.35,633.44M616.70,630.20L612.90,628.96" stroke="#000" stroke-width="1.8" fill="none"/>
<path d="M665.40,641.45L665.40,637.45M665.40,641.45L669.20,640.21M665.40,641.45L667.75,644.69M665.40,641.45L663.05,644.69M665.40,641.45L661.60,640.21" stroke="#000" stroke-width="1.8" fill="none"/>
<text transform="translate(590.20,568.80) scale(1.07,1.12)" font-size="21" text-anchor="start" font-weight="bold">d</text>
<text transform="translate(551.75,665.05) rotate(-90) scale(1,1.035)" font-size="15.5" font-weight="bold" text-anchor="middle"><tspan dy="0.00">NADP</tspan><tspan font-size="9.30" dy="-4.65">+</tspan><tspan dy="4.65">/NADPH</tspan></text>
<text transform="translate(614.18,785.09) rotate(-45)" font-size="15.5" font-weight="bold" text-anchor="end">ZZ39</text>
<text transform="translate(666.38,785.99) rotate(-45)" font-size="15.5" font-weight="bold" text-anchor="end">RIL82</text>
<text transform="translate(66.40,26.20) scale(1.07,1.05)" font-size="28" text-anchor="start" font-weight="bold">A</text>
<text transform="translate(3.90,284.50) scale(1.05,1.1)" font-size="26" text-anchor="start" font-weight="bold">B</text>
<text transform="translate(0.10,549.60) scale(1.06,1.13)" font-size="26" text-anchor="start" font-weight="bold">C</text>
</svg>
</body></html>
